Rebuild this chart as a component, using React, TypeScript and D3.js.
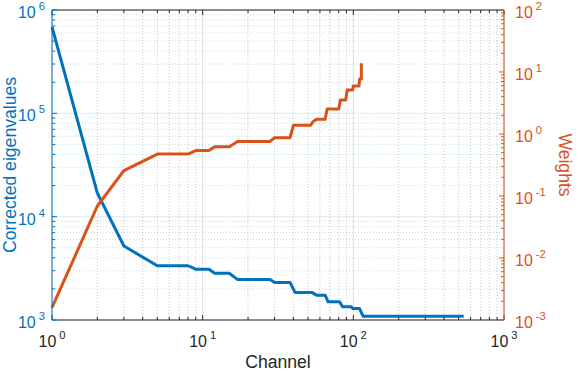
import * as d3 from "d3";

// eigenvalue curve (left axis)
const eigChannel = [1, 2, 3, 5, 8, 9, 11, 12, 15, 17, 28, 30, 38, 41, 53, 57, 65, 68, 81, 85, 97, 99, 110, 116, 540];
const eigValue = [6.85e5, 1.69e4, 5.2e3, 3.35e3, 3.35e3, 3.1e3, 3.1e3, 2.83e3, 2.83e3, 2.47e3, 2.47e3, 2.31e3, 2.31e3, 1.85e3, 1.85e3, 1.74e3, 1.74e3, 1.5e3, 1.5e3, 1.34e3, 1.34e3, 1.29e3, 1.29e3, 1.09e3, 1.09e3];

// weights curve (right axis)
const wChannel = [1, 2, 3, 5, 8, 9, 11, 12, 15, 17, 28, 30, 38, 40, 52, 54, 57, 65, 67, 80, 82, 89, 91, 99, 100, 109, 110, 113, 113];
const wValue = [0.00158, 0.069, 0.256, 0.475, 0.475, 0.54, 0.54, 0.62, 0.62, 0.76, 0.76, 0.87, 0.87, 1.38, 1.38, 1.58, 1.73, 1.73, 2.53, 2.53, 3.53, 3.53, 5.13, 5.13, 5.94, 5.94, 7.7, 7.7, 13.8];

const xExponents = [0, 1, 2, 3];
const leftExponents = [3, 4, 5, 6];
const rightExponents = [-3, -2, -1, 0, 1, 2];

const xTitle = "Channel";
const leftTitle = "Corrected eigenvalues";
const rightTitle = "Weights";

const BLUE = "#0072BD";
const ORANGE = "#D95319";
const DARK = "#262626";
const FONT = "'Liberation Sans', Arial, Helvetica, sans-serif";

const width = 578;
const height = 374;
const marginLeft = 52;
const marginRight = 74;
const marginTop = 10;
const marginBottom = 54;

const minorValues = (lo: number, hi: number) => {
	const out: number[] = [];
	for (let e = lo; e < hi; e++) {
		for (let m = 2; m <= 9; m++) out.push(m * Math.pow(10, e));
	}
	return out;
};

const Pow = ({x, y, exp, anchor, size}: {x: number; y: number; exp: number; anchor: string; size: number}) => (
	<text x={x} y={y} textAnchor={anchor} fontSize={size} fontFamily={FONT}>
		10
		<tspan dx={3} dy={-8} fontSize={size * 0.7}>
			{exp}
		</tspan>
	</text>
);

const App = () => {
	const x = d3.scaleLog().domain([1, 1000]).range([marginLeft, width - marginRight]);
	const yL = d3.scaleLog().domain([1e3, 1e6]).range([height - marginBottom, marginTop]);
	const yR = d3.scaleLog().domain([1e-3, 1e2]).range([height - marginBottom, marginTop]);

	const x0 = marginLeft;
	const x1 = width - marginRight;
	const y0 = height - marginBottom;
	const y1 = marginTop;

	const eigLine = d3
		.line<number>()
		.x((d) => x(eigChannel[d]))
		.y((d) => yL(eigValue[d]));
	const wLine = d3
		.line<number>()
		.x((d) => x(wChannel[d]))
		.y((d) => yR(wValue[d]));

	const xMinor = minorValues(0, 3);
	const xMajor = xExponents.map((e) => Math.pow(10, e));
	const lMinor = minorValues(3, 6);
	const lMajor = leftExponents.map((e) => Math.pow(10, e));
	const rMinor = minorValues(-3, 2);
	const rMajor = rightExponents.map((e) => Math.pow(10, e));

	const majLen = 5;
	const minLen = 3;

	return (
		<div style={{position: "absolute", left: 0, top: 0}}>
			<svg width={width} height={height} viewBox={`0 0 ${width} ${height}`}>
				<rect width={width} height={height} fill="#fff" />
				{/* grid */}
				<g>
					{xMinor.map((v, i) => (
						<line key={"xm" + i} x1={x(v)} x2={x(v)} y1={y1} y2={y0} stroke={DARK} strokeOpacity={0.25} strokeDasharray="1,2" />
					))}
					{lMinor.map((v, i) => (
						<line key={"lm" + i} x1={x0} x2={x1} y1={yL(v)} y2={yL(v)} stroke={BLUE} strokeOpacity={0.25} strokeDasharray="1,2" />
					))}
					{xMajor.map((v, i) => (
						<line key={"xM" + i} x1={x(v)} x2={x(v)} y1={y1} y2={y0} stroke={DARK} strokeOpacity={0.15} />
					))}
					{lMajor.map((v, i) => (
						<line key={"lM" + i} x1={x0} x2={x1} y1={yL(v)} y2={yL(v)} stroke={BLUE} strokeOpacity={0.15} />
					))}
				</g>

				{/* data */}
				<path d={eigLine(d3.range(eigChannel.length)) ?? ""} fill="none" stroke={BLUE} strokeWidth={3} strokeLinejoin="round" />
				<path d={wLine(d3.range(wChannel.length)) ?? ""} fill="none" stroke={ORANGE} strokeWidth={3} strokeLinejoin="round" />

				{/* x axes (bottom + top) */}
				<g stroke={DARK} strokeWidth={1}>
					<line x1={x0} x2={x1} y1={y0} y2={y0} />
					<line x1={x0} x2={x1} y1={y1} y2={y1} />
					{xMajor.map((v, i) => (
						<g key={"xt" + i}>
							<line x1={x(v)} x2={x(v)} y1={y0} y2={y0 - majLen} />
							<line x1={x(v)} x2={x(v)} y1={y1} y2={y1 + majLen} />
						</g>
					))}
					{xMinor.map((v, i) => (
						<g key={"xtm" + i}>
							<line x1={x(v)} x2={x(v)} y1={y0} y2={y0 - minLen} />
							<line x1={x(v)} x2={x(v)} y1={y1} y2={y1 + minLen} />
						</g>
					))}
				</g>

				{/* left axis */}
				<g stroke={BLUE} strokeWidth={1}>
					<line x1={x0} x2={x0} y1={y0} y2={y1} />
					{lMajor.map((v, i) => (
						<line key={"lt" + i} x1={x0} x2={x0 + majLen} y1={yL(v)} y2={yL(v)} />
					))}
					{lMinor.map((v, i) => (
						<line key={"ltm" + i} x1={x0} x2={x0 + minLen} y1={yL(v)} y2={yL(v)} />
					))}
				</g>

				{/* right axis */}
				<g stroke={ORANGE} strokeWidth={1}>
					<line x1={x1} x2={x1} y1={y0} y2={y1} />
					{rMajor.map((v, i) => (
						<line key={"rt" + i} x1={x1} x2={x1 - majLen} y1={yR(v)} y2={yR(v)} />
					))}
					{rMinor.map((v, i) => (
						<line key={"rtm" + i} x1={x1} x2={x1 - minLen} y1={yR(v)} y2={yR(v)} />
					))}
				</g>

				{/* tick labels */}
				<g fill={DARK}>
					{xExponents.map((e) => (
						<Pow key={"xl" + e} x={x(Math.pow(10, e))} y={y0 + 27} exp={e} anchor="middle" size={16} />
					))}
				</g>
				<g fill={BLUE}>
					{leftExponents.map((e) => (
						<Pow key={"ll" + e} x={x0 - 7} y={yL(Math.pow(10, e)) + 8} exp={e} anchor="end" size={16} />
					))}
				</g>
				<g fill={ORANGE}>
					{rightExponents.map((e) => (
						<Pow key={"rl" + e} x={x1 + 11} y={yR(Math.pow(10, e)) + 8} exp={e} anchor="start" size={16} />
					))}
				</g>

				{/* axis titles */}
				<text x={(x0 + x1) / 2} y={368} textAnchor="middle" fontSize={17.6} fontFamily={FONT} fill={DARK}>
					{xTitle}
				</text>
				<text transform={`translate(16,${(y0 + y1) / 2}) rotate(-90)`} textAnchor="middle" fontSize={17.6} fontFamily={FONT} fill={BLUE}>
					{leftTitle}
				</text>
				<text transform={`translate(559,${(y0 + y1) / 2}) rotate(90)`} textAnchor="middle" fontSize={17.6} fontFamily={FONT} fill={ORANGE}>
					{rightTitle}
				</text>
			</svg>
		</div>
	);
};

export default App;
